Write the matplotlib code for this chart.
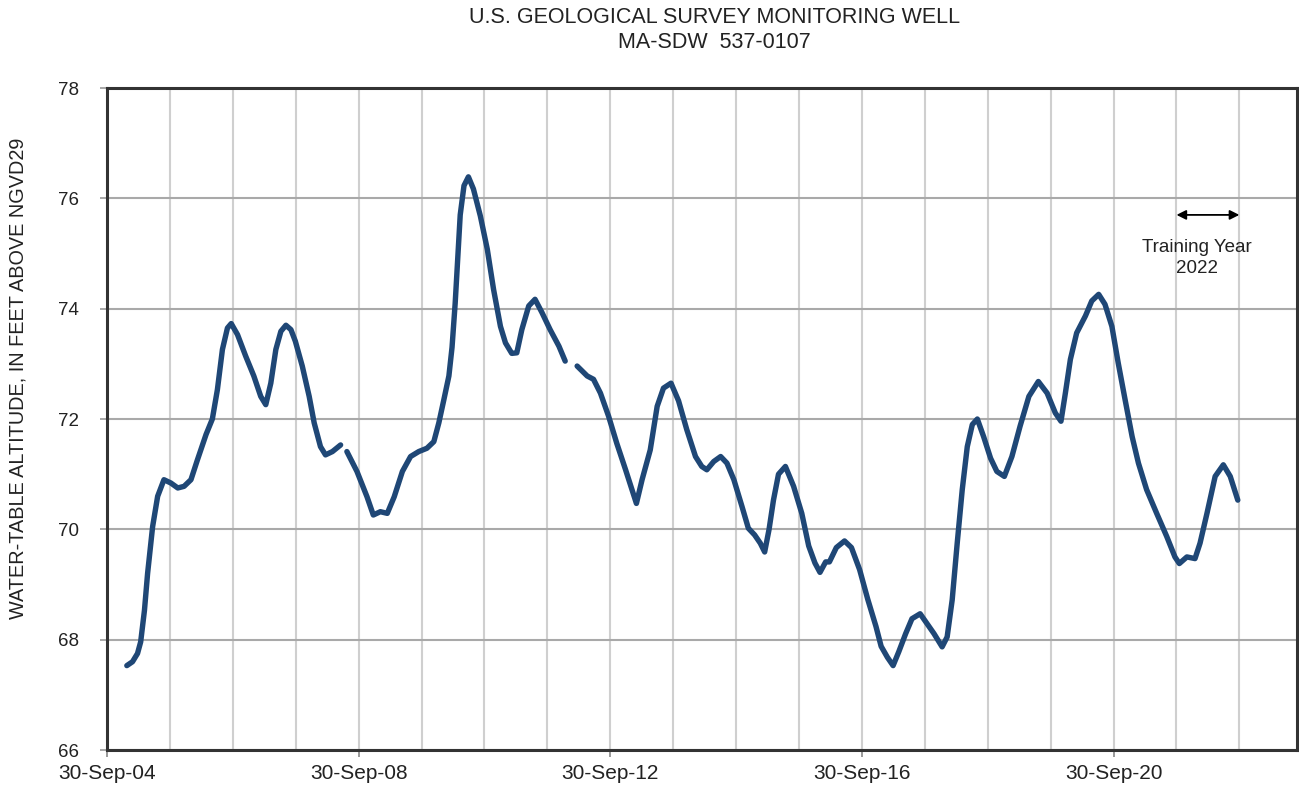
import pandas as pd
import numpy as np
import matplotlib
matplotlib.use("Agg")
import matplotlib.pyplot as plt
import matplotlib.dates as mdates
from matplotlib.ticker import FixedLocator

years = [
    2005.06, 2005.15, 2005.23, 2005.28, 2005.34, 2005.39, 2005.47, 2005.55,
    2005.65, 2005.76, 2005.87, 2005.97, 2006.08, 2006.18,
    2006.32, 2006.42, 2006.50, 2006.58, 2006.66, 2006.72, 2006.82, 2006.95,
    2007.08, 2007.19, 2007.27, 2007.35, 2007.43, 2007.51, 2007.59, 2007.67,
    2007.74, 2007.85, 2007.96, 2008.04, 2008.14, 2008.22, 2008.33, 2008.46,
    np.nan, 2008.56, 2008.72, 2008.88, 2008.98, 2009.09, 2009.20, 2009.31,
    2009.44, 2009.57, 2009.70, 2009.83, 2009.94, 2010.02, 2010.10, 2010.18,
    2010.23, 2010.28, 2010.32, 2010.36, 2010.42, 2010.49, 2010.57, 2010.68,
    2010.79, 2010.89, 2011.00, 2011.08, 2011.18, 2011.26, 2011.34, 2011.45,
    2011.55, 2011.66, 2011.79, 2011.93, 2012.03, np.nan, 2012.22, 2012.38,
    2012.48, 2012.59, 2012.72, 2012.85, 2012.99, 2013.09, 2013.16, 2013.25,
    2013.38, 2013.49, 2013.59, 2013.71, 2013.83, 2013.96, 2014.10, 2014.20,
    2014.28, 2014.39, 2014.50, 2014.60, 2014.71, 2014.84, 2014.94, 2015.04,
    2015.13, 2015.20, 2015.27, 2015.34, 2015.42, 2015.53, 2015.66, 2015.79,
    2015.90, 2016.00, 2016.08, 2016.17, 2016.23, 2016.34, 2016.47, 2016.58,
    2016.71, 2016.84, 2016.97, 2017.05, 2017.15, 2017.24, 2017.33, 2017.44,
    2017.54, 2017.67, 2017.78, 2017.89, 2018.02, 2018.10, 2018.18, 2018.26,
    2018.34, 2018.42, 2018.50, 2018.58, 2018.68, 2018.79, 2018.89, 2019.01,
    2019.13, 2019.26, 2019.40, 2019.55, 2019.69, 2019.82, 2019.91, 2019.98,
    2020.06, 2020.16, 2020.30, 2020.40, 2020.51, 2020.61, 2020.72, 2020.82,
    2020.93, 2021.04, 2021.14, 2021.27, 2021.43, 2021.59, 2021.72, 2021.79,
    2021.91, 2022.04, 2022.12, 2022.23, 2022.36, 2022.49, 2022.60, 2022.72,
]
levels = [
    67.53, 67.60, 67.75, 67.96, 68.53, 69.20, 70.05, 70.60,
    70.90, 70.84, 70.75, 70.78, 70.90, 71.25,
    71.72, 72.00, 72.53, 73.26, 73.65, 73.73, 73.53, 73.14,
    72.78, 72.41, 72.26, 72.65, 73.26, 73.59, 73.70, 73.62,
    73.41, 72.96, 72.41, 71.93, 71.50, 71.35, 71.41, 71.53,
    np.nan, 71.41, 71.05, 70.59, 70.26, 70.32, 70.29, 70.59,
    71.05, 71.32, 71.41, 71.47, 71.59, 71.93, 72.35, 72.78,
    73.30, 74.10, 74.90, 75.70, 76.23, 76.39, 76.17, 75.68,
    75.08, 74.35, 73.68, 73.38, 73.19, 73.20, 73.62, 74.05,
    74.17, 73.93, 73.62, 73.32, 73.05, np.nan, 72.96, 72.78,
    72.72, 72.47, 72.05, 71.56, 71.08, 70.72, 70.47, 70.90,
    71.44, 72.23, 72.56, 72.65, 72.33, 71.81, 71.32, 71.14,
    71.08, 71.23, 71.32, 71.20, 70.90, 70.41, 70.02, 69.90,
    69.75, 69.59, 70.00, 70.53, 71.00, 71.14, 70.78, 70.29,
    69.70, 69.39, 69.22, 69.41, 69.41, 69.67, 69.79, 69.67,
    69.27, 68.73, 68.24, 67.88, 67.68, 67.53, 67.78, 68.11,
    68.38, 68.47, 68.29, 68.11, 67.87, 68.05, 68.72, 69.75,
    70.72, 71.50, 71.90, 72.00, 71.68, 71.29, 71.05, 70.96,
    71.32, 71.87, 72.41, 72.68, 72.47, 72.11, 71.96, 72.47,
    73.08, 73.56, 73.87, 74.14, 74.26, 74.08, 73.68, 73.02,
    72.35, 71.68, 71.20, 70.72, 70.29, 69.87, 69.50, 69.38,
    69.50, 69.47, 69.75, 70.29, 70.96, 71.17, 70.96, 70.53,
]

major_tick_dates = ["2004-09-30", "2008-09-30", "2012-09-30", "2016-09-30", "2020-09-30"]
grid_years = list(range(2004, 2023))
y_ticks = [66, 68, 70, 72, 74, 76, 78]

title_lines = ["U.S. GEOLOGICAL SURVEY MONITORING WELL", "MA-SDW  537-0107"]
y_label = "WATER-TABLE ALTITUDE, IN FEET ABOVE NGVD29"
note_text = "Training Year\n2022"
training_start, training_end = "2021-09-30", "2022-09-30"


def to_num(y):
    # decimal year -> matplotlib date number (nan keeps the gaps)
    if np.isnan(y):
        return np.nan
    yr = int(y)
    d = pd.Timestamp(yr, 1, 1) + pd.Timedelta(days=(y - yr) * 365.25)
    return mdates.date2num(d)


def dnum(s):
    return mdates.date2num(pd.Timestamp(s))


x = np.array([to_num(y) for y in years])

plt.rcParams["font.family"] = ["Liberation Sans", "DejaVu Sans"]

fig = plt.figure(figsize=(12.99, 7.88), dpi=100)
ax = fig.add_axes([0.0824, 0.0482, 0.9161, 0.8401])

ax.plot(x, levels, color="#1f4776", lw=3.9, solid_capstyle="round",
        solid_joinstyle="round", zorder=3)

# ── Axes ──────────────────────────────────────────────
ax.set_xlim(dnum("2004-09-30"), dnum("2023-08-31"))
ax.set_ylim(66, 78)
ax.set_yticks(y_ticks)

ax.xaxis.set_major_locator(FixedLocator([dnum(d) for d in major_tick_dates]))
ax.xaxis.set_minor_locator(FixedLocator([dnum(f"{yr}-09-30") for yr in grid_years]))
ax.xaxis.set_major_formatter(mdates.DateFormatter("%d-%b-%y"))

ax.grid(which="minor", axis="x", color="#cfcfcf", lw=1.5, zorder=1)
ax.grid(which="major", axis="x", color="#cfcfcf", lw=1.5, zorder=1)
ax.grid(which="major", axis="y", color="#a9a9a9", lw=1.5, zorder=1)
ax.set_axisbelow(True)

ax.tick_params(axis="x", which="major", length=5, width=1.2, color="#888888",
               labelsize=15, pad=5, labelcolor="#222222")
ax.tick_params(axis="x", which="minor", length=0)
ax.tick_params(axis="y", length=5, width=1.2, color="#999999",
               labelsize=13.5, pad=15, labelcolor="#222222")

for s in ax.spines.values():
    s.set_color("#333333")
    s.set_linewidth(2.2)
    s.set_zorder(4)

ax.set_ylabel(y_label, fontsize=14.3, color="#222222")
ax.yaxis.set_label_coords(-0.0665, 0.562)

# ── Training-year annotation ───────────────────────────
ax.annotate("", xy=(dnum(training_end), 75.7),
            xytext=(dnum(training_start), 75.7),
            arrowprops=dict(arrowstyle="<|-|>", color="black", lw=1.3,
                            mutation_scale=14, shrinkA=0, shrinkB=0),
            zorder=5)
ax.text(dnum("2022-01-25"), 75.27, note_text, ha="center", va="top",
        fontsize=13.5, color="#222222", linespacing=1.3, zorder=5)

# ── Title ──────────────────────────────────────────────
fig.text(0.55, 0.991, title_lines[0], ha="center", va="top",
         fontsize=15.5, color="#222222")
fig.text(0.55, 0.960, title_lines[1], ha="center", va="top",
         fontsize=15.5, color="#222222")

fig.savefig("out.png", dpi=100)
print("Saved out.png")
